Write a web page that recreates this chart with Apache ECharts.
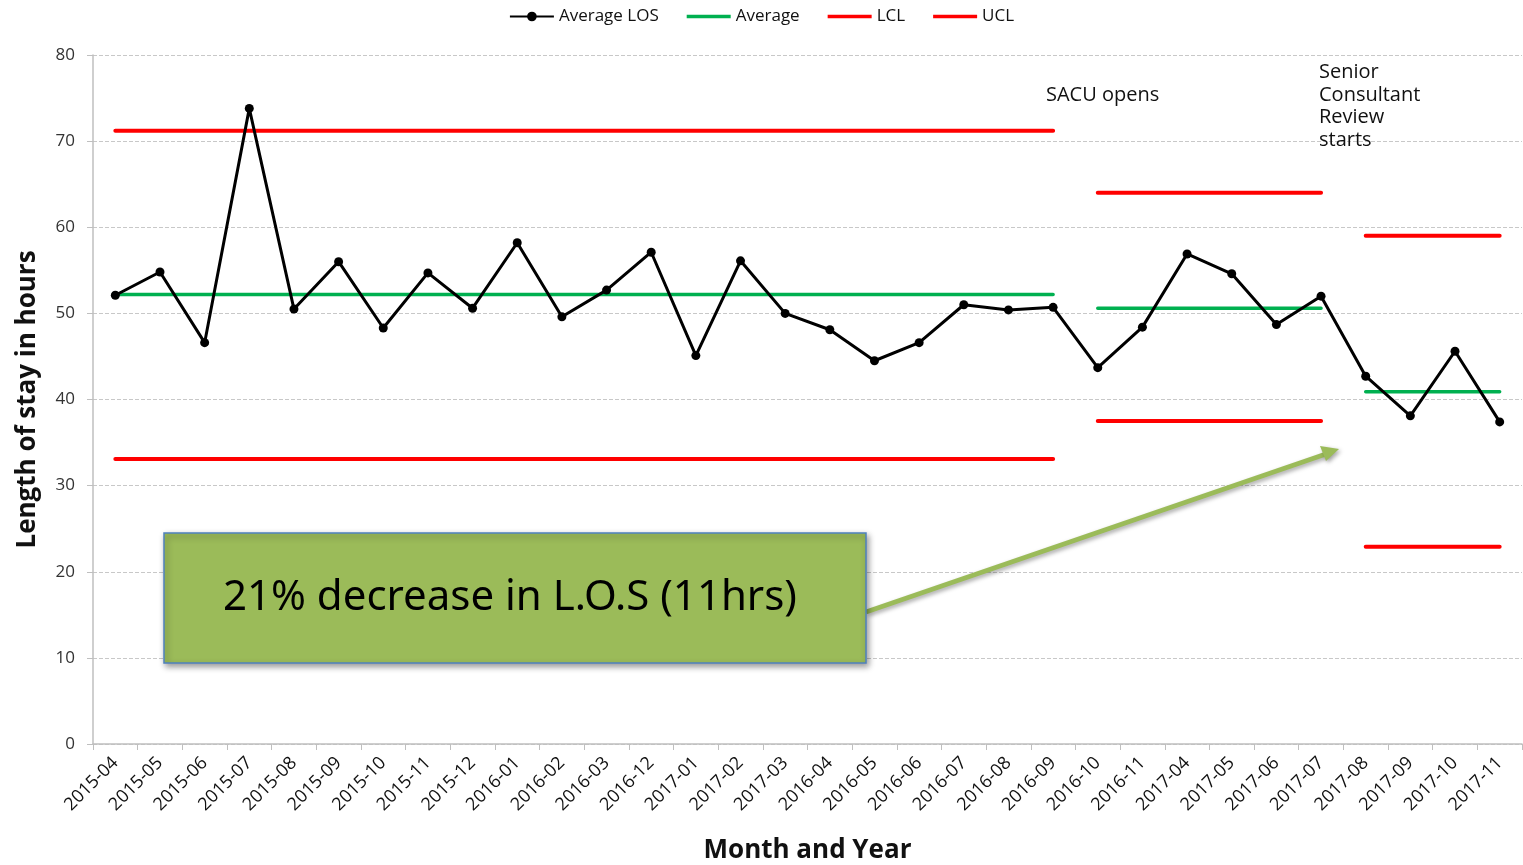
<!DOCTYPE html>
<html>
<head>
<meta charset="utf-8">
<script src="https://cdn.jsdelivr.net/npm/echarts@6/dist/echarts.min.js"></script>
<style>
html,body{margin:0;padding:0;background:#fff;}
#c{width:1523px;height:865px;}
</style>
</head>
<body>
<div id="c"></div>
<script>
var categories = ['2015-04','2015-05','2015-06','2015-07','2015-08','2015-09','2015-10','2015-11','2015-12','2016-01','2016-02','2016-03','2016-12','2017-01','2017-02','2017-03','2016-04','2016-05','2016-06','2016-07','2016-08','2016-09','2016-10','2016-11','2017-04','2017-05','2017-06','2017-07','2017-08','2017-09','2017-10','2017-11'];
var averageLOS = [52.1,54.8,46.6,73.8,50.5,56.0,48.3,54.7,50.6,58.2,49.6,52.7,57.1,45.1,56.1,50.0,48.1,44.5,46.6,51.0,50.4,50.7,43.7,48.4,56.9,54.6,48.7,52.0,42.7,38.1,45.6,37.4];
// control-limit phases
var phaseStart = [0, 22, 28];
var phaseEnd = [21, 27, 31];
var phaseAvg = [52.2, 50.6, 40.9];
var phaseLCL = [33.1, 37.5, 22.9];
var phaseUCL = [71.2, 64.0, 59.0];
var yTicks = [0,10,20,30,40,50,60,70,80];

function phaseData(p, v){
  var out = [];
  for (var i=0;i<categories.length;i++){
    out.push(i>=phaseStart[p] && i<=phaseEnd[p] ? v : null);
  }
  return out;
}

var font = '"Open Sans", "Noto Sans", sans-serif';
var series = [
  {name:'Average LOS', type:'line', data:averageLOS, symbol:'circle', symbolSize:9,
   itemStyle:{color:'#000'}, lineStyle:{color:'#000', width:3}, z:5}
];
var specs = [['Average', phaseAvg, '#00B050', 3.5, 4], ['LCL', phaseLCL, '#FF0000', 4, 3], ['UCL', phaseUCL, '#FF0000', 4, 3]];
specs.forEach(function(s){
  for (var p=0;p<phaseStart.length;p++){
    series.push({name:s[0], type:'line', data:phaseData(p, s[1][p]), symbol:'none', connectNulls:false,
      itemStyle:{color:s[2]}, lineStyle:{color:s[2], width:s[3], cap:'round'}, z:s[4]});
  }
});

var lineIcon = 'path://M0,0H48V4H0Z';
var chart = echarts.init(document.getElementById('c'), null, {renderer:'canvas'});
chart.setOption({
  animation:false,
  backgroundColor:'#ffffff',
  textStyle:{fontFamily:font},
  legend:{
    top:3, left:'center', itemGap:28, itemWidth:44, itemHeight:12,
    textStyle:{fontSize:17, color:'#111', fontFamily:font},
    data:[{name:'Average LOS'}, {name:'Average', icon:lineIcon}, {name:'LCL', icon:lineIcon}, {name:'UCL', icon:lineIcon}]
  },
  grid:{left:93, right:1, top:55, bottom:121, containLabel:false, outerBoundsMode:'none'},
  xAxis:{
    type:'category', data:categories, boundaryGap:true,
    name:'Month and Year', nameLocation:'middle', nameGap:94,
    nameTextStyle:{fontSize:26, fontWeight:'bold', color:'#111', fontFamily:font},
    axisLine:{lineStyle:{color:'#bfbfbf', width:1.5}},
    axisTick:{show:true, length:6, lineStyle:{color:'#bfbfbf'}},
    axisLabel:{rotate:45, fontSize:18, color:'#111', margin:16, interval:0}
  },
  yAxis:{
    type:'value', min:0, max:80, interval:10,
    name:'Length of stay in hours', nameLocation:'middle', nameGap:52,
    nameTextStyle:{fontSize:26, fontWeight:'bold', color:'#111', fontFamily:font},
    axisLine:{show:true, lineStyle:{color:'#bfbfbf', width:1.5}},
    axisTick:{show:true, length:6, lineStyle:{color:'#bfbfbf'}},
    axisLabel:{fontSize:17, color:'#333', margin:18,
      formatter:function(v){return yTicks.indexOf(v)>=0 ? String(v) : '';}},
    splitLine:{show:true, lineStyle:{color:'#c8c8c8', type:'dashed', width:1}}
  },
  series:series,
  graphic:[
    {type:'text', left:1046, top:85, z:10,
     style:{text:'SACU opens', fill:'#111', font:'20px ' + font}},
    {type:'text', left:1319, top:61, z:10,
     style:{text:'Senior\nConsultant\nReview\nstarts', fill:'#111', font:'20px ' + font, lineHeight:22.7}},
    {type:'line', z:9,
     shape:{x1:866, y1:612, x2:1326, y2:454},
     style:{stroke:'#9BBB59', lineWidth:4.5, shadowBlur:4, shadowColor:'rgba(0,0,0,0.35)', shadowOffsetX:2, shadowOffsetY:2}},
    {type:'polygon', z:9,
     shape:{points:[[1339,449],[1320,446],[1326,461]]},
     style:{fill:'#9BBB59', shadowBlur:4, shadowColor:'rgba(0,0,0,0.35)', shadowOffsetX:2, shadowOffsetY:2}},
    {type:'rect', z:10,
     shape:{x:164, y:533, width:702, height:130},
     style:{fill:'#9BBB59', stroke:'#4F81BD', lineWidth:1.5, shadowBlur:6, shadowColor:'rgba(0,0,0,0.4)', shadowOffsetX:2, shadowOffsetY:3}},
    {type:'text', z:11, left:223, top:577,
     style:{text:'21% decrease in L.O.S (11hrs)', fill:'#000', font:'42px "Noto Sans", sans-serif'}}
  ]
});
</script>
</body>
</html>
